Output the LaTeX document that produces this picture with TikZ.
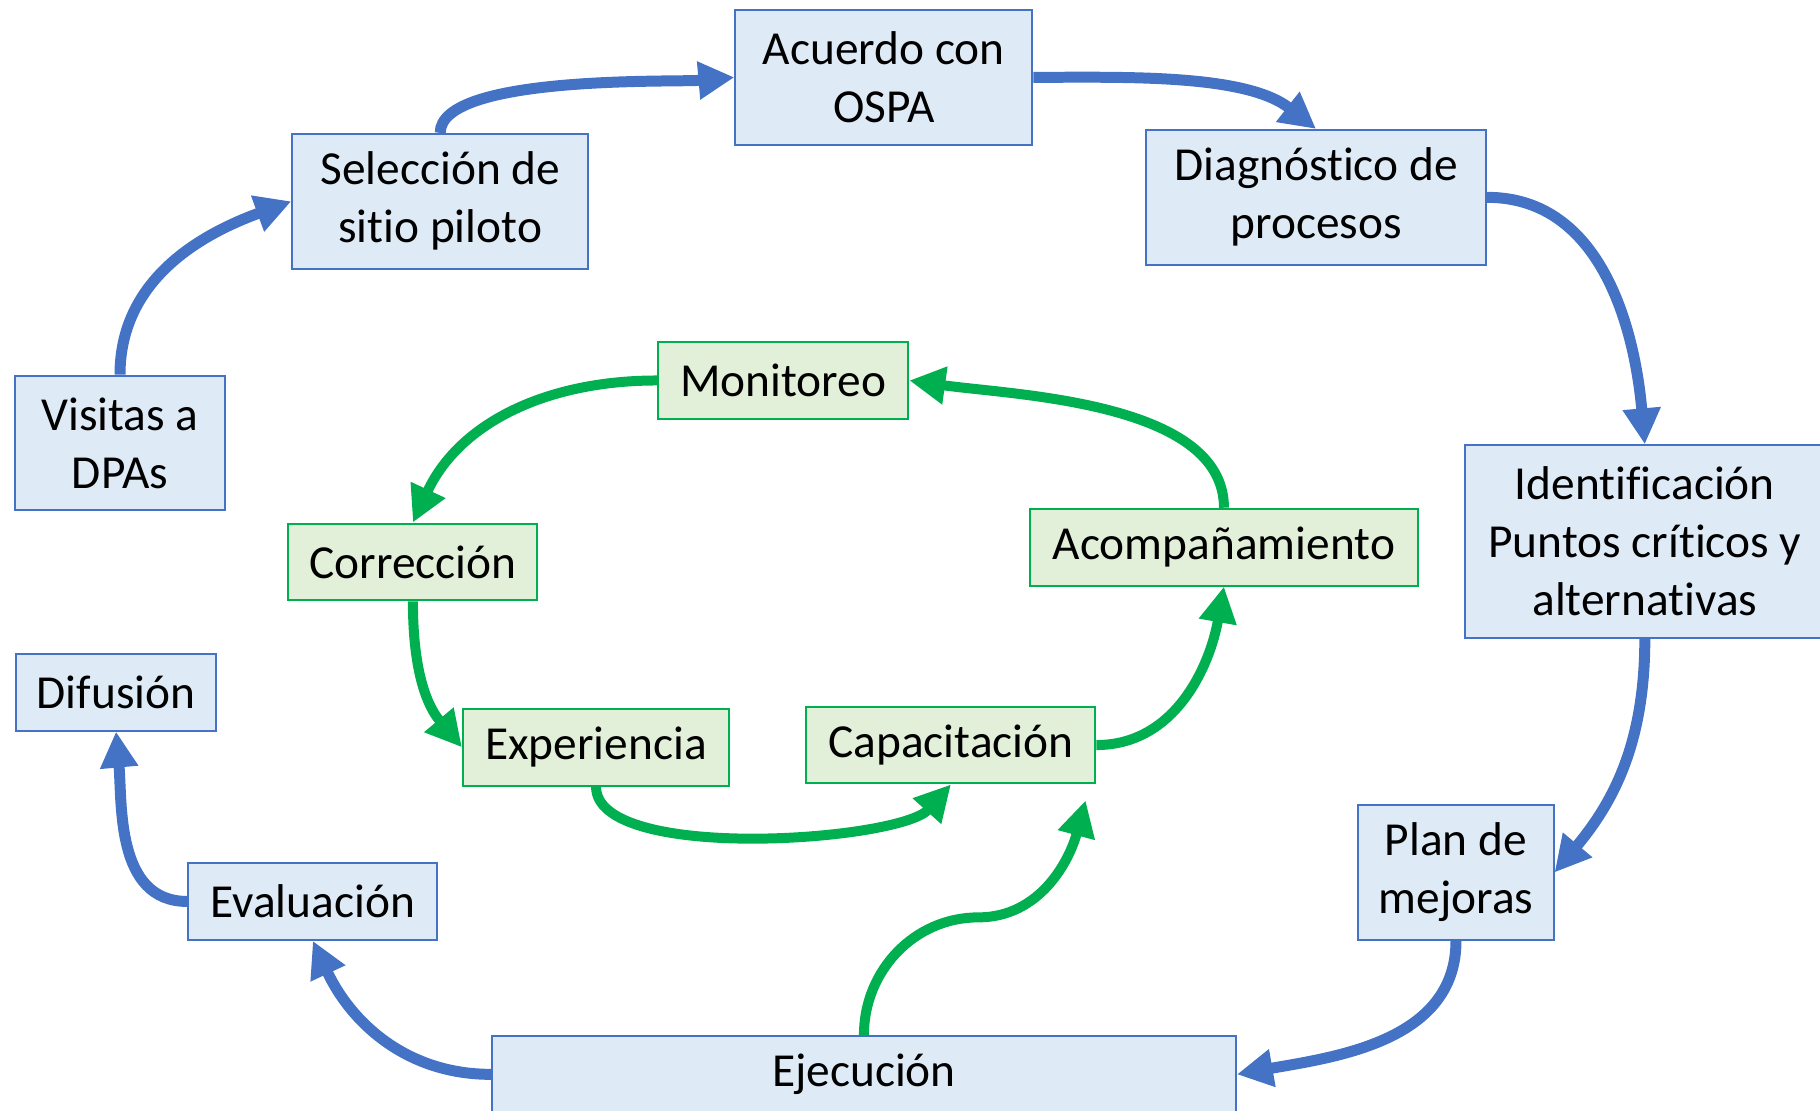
\documentclass[tikz,border=0pt]{standalone}
\usepackage{fontspec}
\setmainfont[Ligatures=NoCommon]{Carlito}
\usetikzlibrary{arrows.meta}
\definecolor{boxblue}{HTML}{DEEBF7}
\definecolor{lineblue}{HTML}{4472C4}
\definecolor{boxgreen}{HTML}{E2F0D9}
\definecolor{linegreen}{HTML}{00B050}

\begin{document}
\begin{tikzpicture}[
  blueblock/.style={rectangle, draw=lineblue, fill=boxblue, line width=1pt, minimum height=2.37cm, align=center},
  greenblock/.style={rectangle, draw=linegreen, fill=boxgreen, line width=1pt, minimum height=1.35cm, align=center},
  bluearrow/.style={-{Triangle[length=18pt,width=18pt]}, draw=lineblue, line width=5.5pt},
  greenarrow/.style={-{Triangle[length=18pt,width=18pt]}, draw=linegreen, line width=5pt},
  font=\fontsize{23.7}{29}\selectfont
]
\useasboundingbox (0,0) rectangle (32,19.52);

% outer cycle
\node[blueblock, minimum width=5.22cm] (acuerdo) at (15.54,18.16) {Acuerdo con\\OSPA};
\node[blueblock, minimum width=5.20cm] (seleccion) at (7.74,15.98) {Selección de\\sitio piloto};
\node[blueblock, minimum width=5.98cm] (diagnostico) at (23.14,16.05) {Diagnóstico de\\procesos};
\node[blueblock, minimum width=3.69cm] (visitas) at (2.11,11.73) {Visitas a\\DPAs};
\node[blueblock, minimum width=6.33cm, minimum height=3.38cm] (identificacion) at (28.92,10.00) {Identificación\\Puntos críticos y\\alternativas};
\node[blueblock, minimum width=3.43cm] (plan) at (25.60,4.18) {Plan de\\mejoras};
\node[blueblock, minimum width=13.08cm, minimum height=1.35cm] (ejecucion) at (15.19,0.63) {Ejecución};
\node[blueblock, minimum width=4.38cm, minimum height=1.35cm] (evaluacion) at (5.50,3.67) {Evaluación};
\node[blueblock, minimum width=3.53cm, minimum height=1.35cm] (difusion) at (2.04,7.35) {Difusión};

% inner cycle
\node[greenblock, minimum width=4.40cm] (monitoreo) at (13.77,12.83) {Monitoreo};
\node[greenblock, minimum width=4.38cm] (correccion) at (7.26,9.64) {Corrección};
\node[greenblock, minimum width=6.82cm] (acompanamiento) at (21.52,9.90) {Acompañamiento};
\node[greenblock, minimum width=4.68cm] (experiencia) at (10.48,6.38) {Experiencia};
\node[greenblock, minimum width=5.08cm] (capacitacion) at (16.72,6.42) {Capacitación};

\coordinate (bend) at (17.20,3.39);
\coordinate (captip) at ([xshift=-0.19cm,yshift=-0.28cm]capacitacion.south east);

\draw[bluearrow] (visitas.north) to[out=90,in=200] (seleccion.west);
\draw[bluearrow] (seleccion.north) to[out=90,in=185,looseness=0.5] (acuerdo.west);
\draw[bluearrow] (acuerdo.east) to[out=0,in=142,looseness=0.8] (diagnostico.north);
\draw[bluearrow] (diagnostico.east) to[out=0,in=95] (identificacion.north);
\draw[bluearrow] (identificacion.south) to[out=-90,in=50] (plan.east);
\draw[bluearrow] (plan.south) to[out=-90,in=10] (ejecucion.east);
\draw[bluearrow] (ejecucion.west) to[out=180,in=-65] (evaluacion.south);
\draw[bluearrow] (evaluacion.west) to[out=180,in=-85] (difusion.south);

\draw[greenarrow] (monitoreo.west) to[out=180,in=65] (correccion.north);
\draw[greenarrow] (correccion.south) to[out=-90,in=130] (experiencia.west);
\draw[greenarrow] (experiencia.south) to[out=-90,in=-132,looseness=0.55] (capacitacion.south);
\draw[greenarrow] (capacitacion.east) to[out=0,in=-100] (acompanamiento.south);
\draw[greenarrow] (acompanamiento.north) to[out=90,in=-8,looseness=0.8] (monitoreo.east);
\draw[greenarrow] (ejecucion.north) to[out=90,in=180] (bend) to[out=0,in=-105] (captip);
\end{tikzpicture}
\end{document}
